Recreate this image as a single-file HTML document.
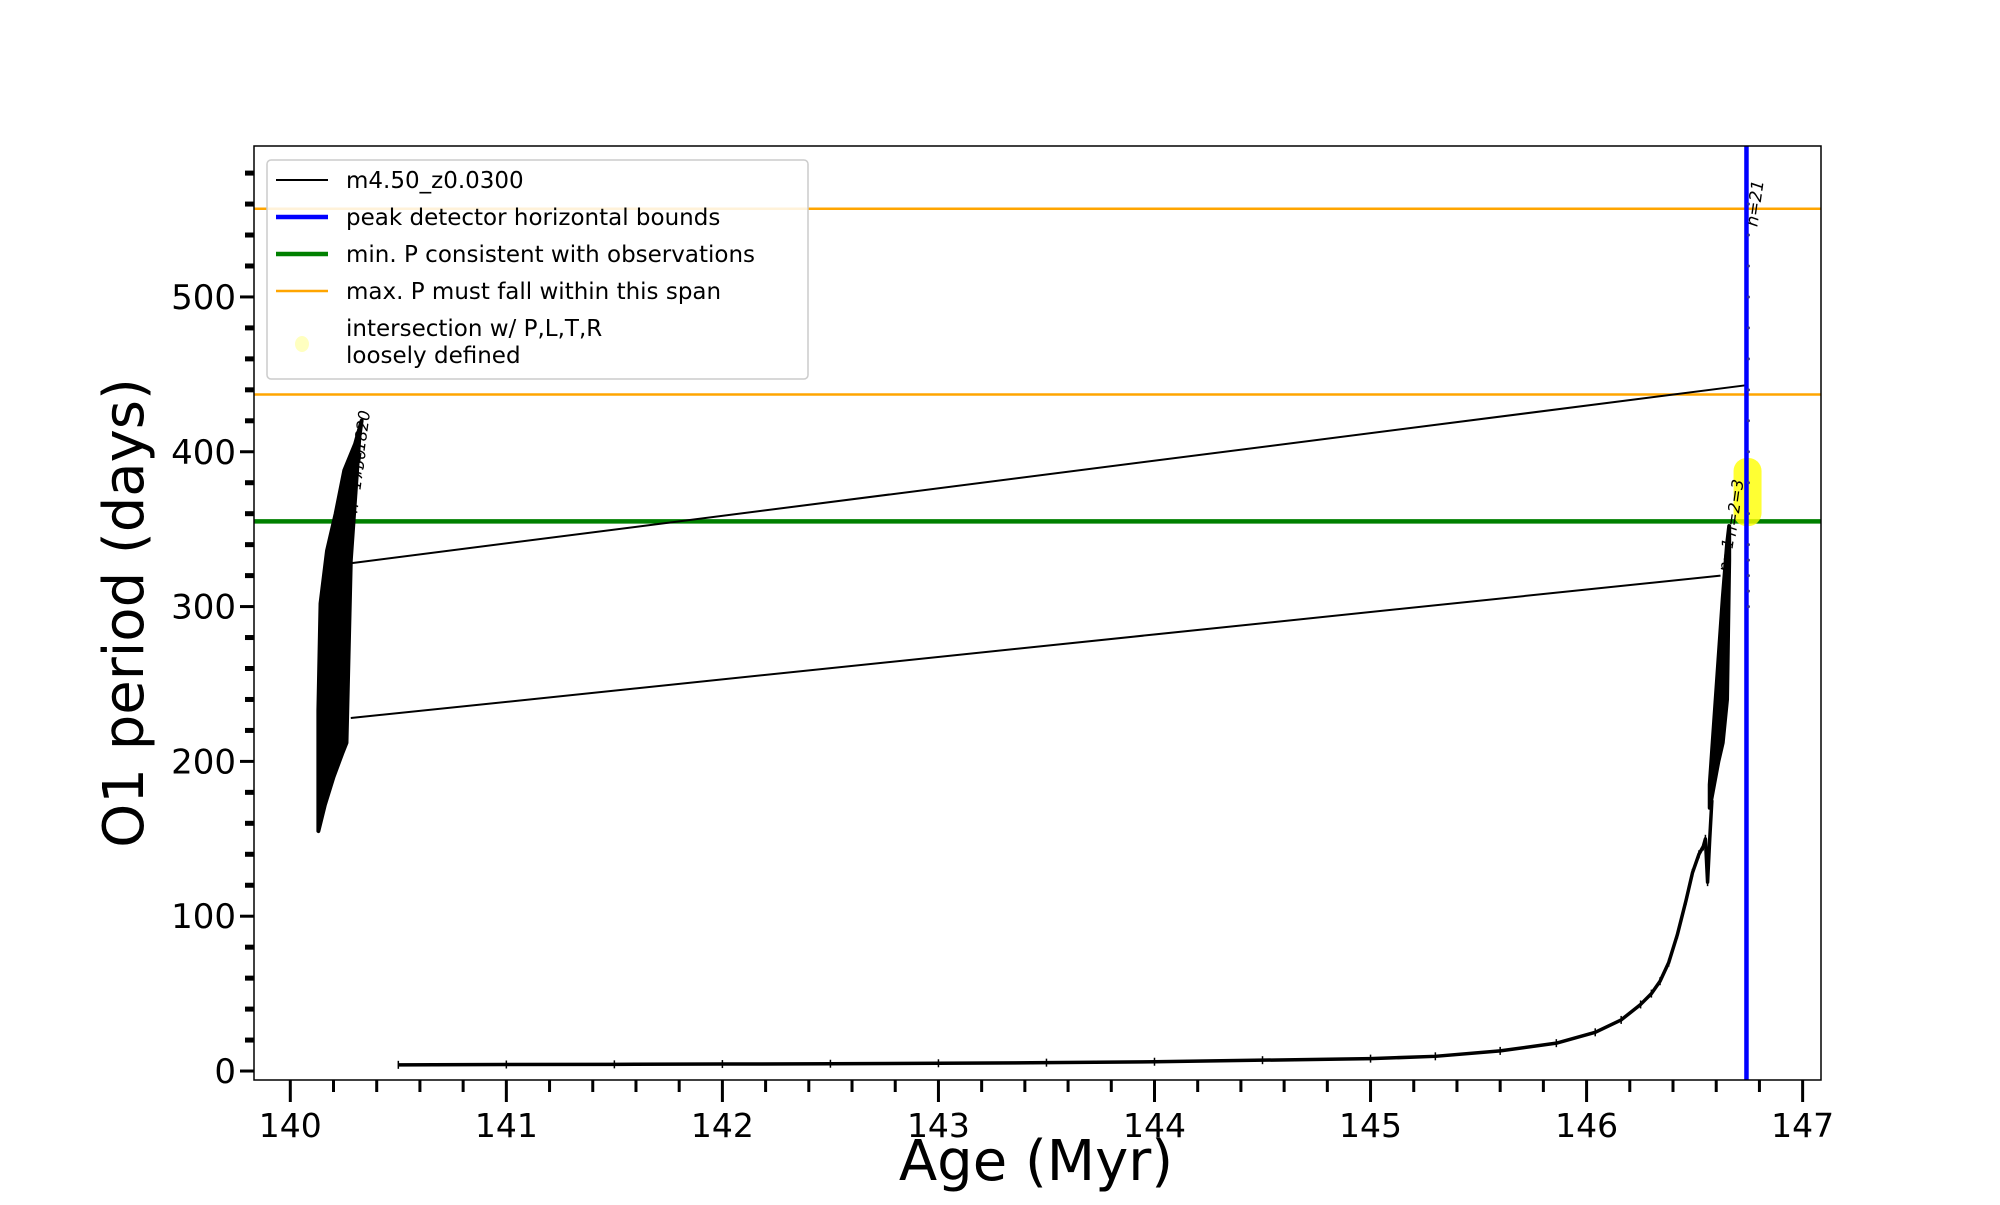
<!DOCTYPE html>
<html><head><meta charset="utf-8"><style>
body{margin:0;background:#fff;}
svg text{font-family:"DejaVu Sans","Liberation Sans",sans-serif;}
</style></head><body>
<svg id="chart" width="2000" height="1200" xmlns="http://www.w3.org/2000/svg">
<rect x="0" y="0" width="2000" height="1200" fill="#fff"/>
<g id="plot"></g>
</svg>
<script>
const xTicks=[140,141,142,143,144,145,146,147];
const yTicks=[0,100,200,300,400,500];
const mainAge=[140.5,141,141.5,142,142.5,143,143.5,144,144.5,145,145.3,145.6,145.86,146.04,146.16,146.25,146.3,146.34,146.38,146.42,146.46,146.49,146.52,146.54,146.55,146.56,146.57,146.58];
const mainP=[4,4.2,4.3,4.5,4.7,5,5.4,6,7,8,9.5,13,18,25,33,43,50,58,70,88,110,128,140,145,150,122,150,175];
const leftUpperAge=[140.13,140.14,140.17,140.21,140.25,140.3,140.33];
const leftUpperP=[233,302,336,360,388,405,420];
const leftLowerAge=[140.32,140.28,140.26,140.24,140.2,140.16,140.13];
const leftLowerP=[410,330,212,205,190,172,155];
const rightUpperAge=[146.57,146.59,146.61,146.63,146.65,146.66];
const rightUpperP=[185,225,265,305,340,352];
const rightLowerAge=[146.66,146.65,146.63,146.61,146.59,146.57];
const rightLowerP=[330,240,212,200,185,170];
const linkAges1=[140.28,146.62];const linkP1=[228,320];
const linkAges2=[140.28,146.74];const linkP2=[328,443];
const orangeP=[557,437];
const greenP=[355];
const blueAge=[146.74];
const blueDotP=[300,310,320,330,340,360,380,400,420,440,460,480,500,520,540,560];
const yellowAge=146.745, yellowP=[352,396];

const X0=254,X1=1821,Y0=146,Y1=1080;
const xmin=139.832,xmax=147.085,ymin=-5.8,ymax=597.5;
const sx=v=>X0+(v-xmin)/(xmax-xmin)*(X1-X0);
const sy=v=>Y1-(v-ymin)/(ymax-ymin)*(Y1-Y0);
const NS='http://www.w3.org/2000/svg';
const g=document.getElementById('plot');
function mk(t,a,parent){const e=document.createElementNS(NS,t);for(const k in a)e.setAttribute(k,a[k]);(parent||g).appendChild(e);return e;}

const defs=mk('defs',{});
const cp=mk('clipPath',{id:'clip'},defs);
mk('rect',{x:X0,y:Y0,width:X1-X0,height:Y1-Y0},cp);
const inner=mk('g',{'clip-path':'url(#clip)'});



orangeP.forEach((p,i)=>{const l=mk('line',{x1:X0,x2:X1,y1:sy(p),y2:sy(p),stroke:'#ffa500','stroke-width':2.5},inner);

});
greenP.forEach(p=>{const l=mk('line',{x1:X0,x2:X1,y1:sy(p),y2:sy(p),stroke:'#008000','stroke-width':4.5},inner);

});

function poly(ax,px,bx,bp,name){let pts=ax.map((a,i)=>sx(a)+','+sy(px[i])).concat(bx.map((a,i)=>sx(a)+','+sy(bp[i])));
const e=mk('polygon',{points:pts.join(' '),fill:'#000',stroke:'#000','stroke-width':4,'stroke-linejoin':'round'},inner);

}
poly(leftUpperAge,leftUpperP,leftLowerAge,leftLowerP,'left-oscillation-cluster');
poly(rightUpperAge,rightUpperP,rightLowerAge,rightLowerP,'right-oscillation-cluster');

function pl(ax,pp,name,w){const e=mk('polyline',{points:ax.map((a,i)=>sx(a)+','+sy(pp[i])).join(' '),fill:'none',stroke:'#000','stroke-width':w||2,'stroke-linejoin':'round'},inner);

}
pl(mainAge,mainP,'main-track',3.5);
pl(linkAges1,linkP1,'link-line-lower',2);
pl(linkAges2,linkP2,'link-line-upper',2);
mainAge.forEach((a,i)=>{const d=mk('line',{x1:sx(a),x2:sx(a),y1:sy(mainP[i])-4,y2:sy(mainP[i])+4,stroke:'#000','stroke-width':1.5},inner);

});

const yb=mk('rect',{x:sx(yellowAge)-14,y:sy(yellowP[1]),width:28,height:sy(yellowP[0])-sy(yellowP[1]),rx:13,fill:'#ffff00','fill-opacity':0.8},inner);


blueAge.forEach(a=>{const l=mk('line',{x1:sx(a),x2:sx(a),y1:Y0,y2:Y1,stroke:'#0000ff','stroke-width':4.5},inner);

});
blueDotP.forEach(p=>{const d=mk('circle',{cx:sx(blueAge[0])+2,cy:sy(p),r:1.5,fill:'#333399'},inner);

});

function ann(x,y,t,name,fs){const e=mk('text',{x:0,y:0,'font-size':fs||16,'font-style':'italic',transform:`translate(${x},${y}) rotate(-82)`});e.textContent=t;

}
ann(sx(146.79),sy(545),'n=21','annotation-n21',17);
ann(sx(146.66),sy(322),'n=1','annotation-n1');
ann(sx(146.69),sy(345),'n=2=3','annotation-n3');
ann(sx(140.31)+4,sy(385),'n=1820','annotation-left');
ann(sx(140.30)+2,sy(360),'n=1750','annotation-left-2');

const fr=mk('rect',{x:X0,y:Y0,width:X1-X0,height:Y1-Y0,fill:'none',stroke:'#000','stroke-width':1.5});



xTicks.forEach(v=>{const l=mk('line',{x1:sx(v),x2:sx(v),y1:Y1,y2:Y1+22,stroke:'#000','stroke-width':3});


const t=mk('text',{x:sx(v),y:Y1+57,'font-size':33,'text-anchor':'middle'});t.textContent=v;

});
for(let v=139.8;v<=147.05;v+=0.2){const r=Math.round(v*10)/10;if(Math.abs(r-Math.round(r))<0.01||r<xmin)continue;
const l=mk('line',{x1:sx(r),x2:sx(r),y1:Y1,y2:Y1+12,stroke:'#000','stroke-width':3});

}
yTicks.forEach(v=>{const l=mk('line',{x1:X0-14,x2:X0,y1:sy(v),y2:sy(v),stroke:'#000','stroke-width':3});


const t=mk('text',{x:X0-18,y:sy(v)+12,'font-size':34,'text-anchor':'end'});t.textContent=v;

});
for(let v=20;v<=580;v+=20){if(v%100===0)continue;
const l=mk('line',{x1:X0-9,x2:X0,y1:sy(v),y2:sy(v),stroke:'#000','stroke-width':5});

}

const xl=mk('text',{x:1036,y:1180,'font-size':56,'text-anchor':'middle'});xl.textContent='Age (Myr)';


const yl=mk('text',{x:0,y:0,'font-size':56,'text-anchor':'middle',transform:'translate(143,613) rotate(-90)'});yl.textContent='O1 period (days)';



const lg=mk('g',{});


mk('rect',{x:267,y:160,width:541,height:219,rx:4,fill:'#fff','fill-opacity':0.85,stroke:'#ccc','stroke-width':1.5},lg);
const items=[['#000',2,'m4.50_z0.0300',180],['#0000ff',4.5,'peak detector horizontal bounds',217],['#008000',4.5,'min. P consistent with observations',254],['#ffa500',2.5,'max. P must fall within this span',291]];
items.forEach(([c,w,t,y])=>{const ge=mk('g',{},lg);


mk('line',{x1:276,x2:328,y1:y,y2:y,stroke:c,'stroke-width':w},ge);
const tx=mk('text',{x:346,y:y+8,'font-size':23},ge);tx.textContent=t;});
const ge=mk('g',{},lg);


mk('ellipse',{cx:302,cy:344,rx:7,ry:8,fill:'#ffffc0'},ge);
const t1=mk('text',{x:346,y:336,'font-size':23},ge);t1.textContent='intersection w/ P,L,T,R';
const t2=mk('text',{x:346,y:363,'font-size':23},ge);t2.textContent='loosely defined';
</script>
</body></html>
